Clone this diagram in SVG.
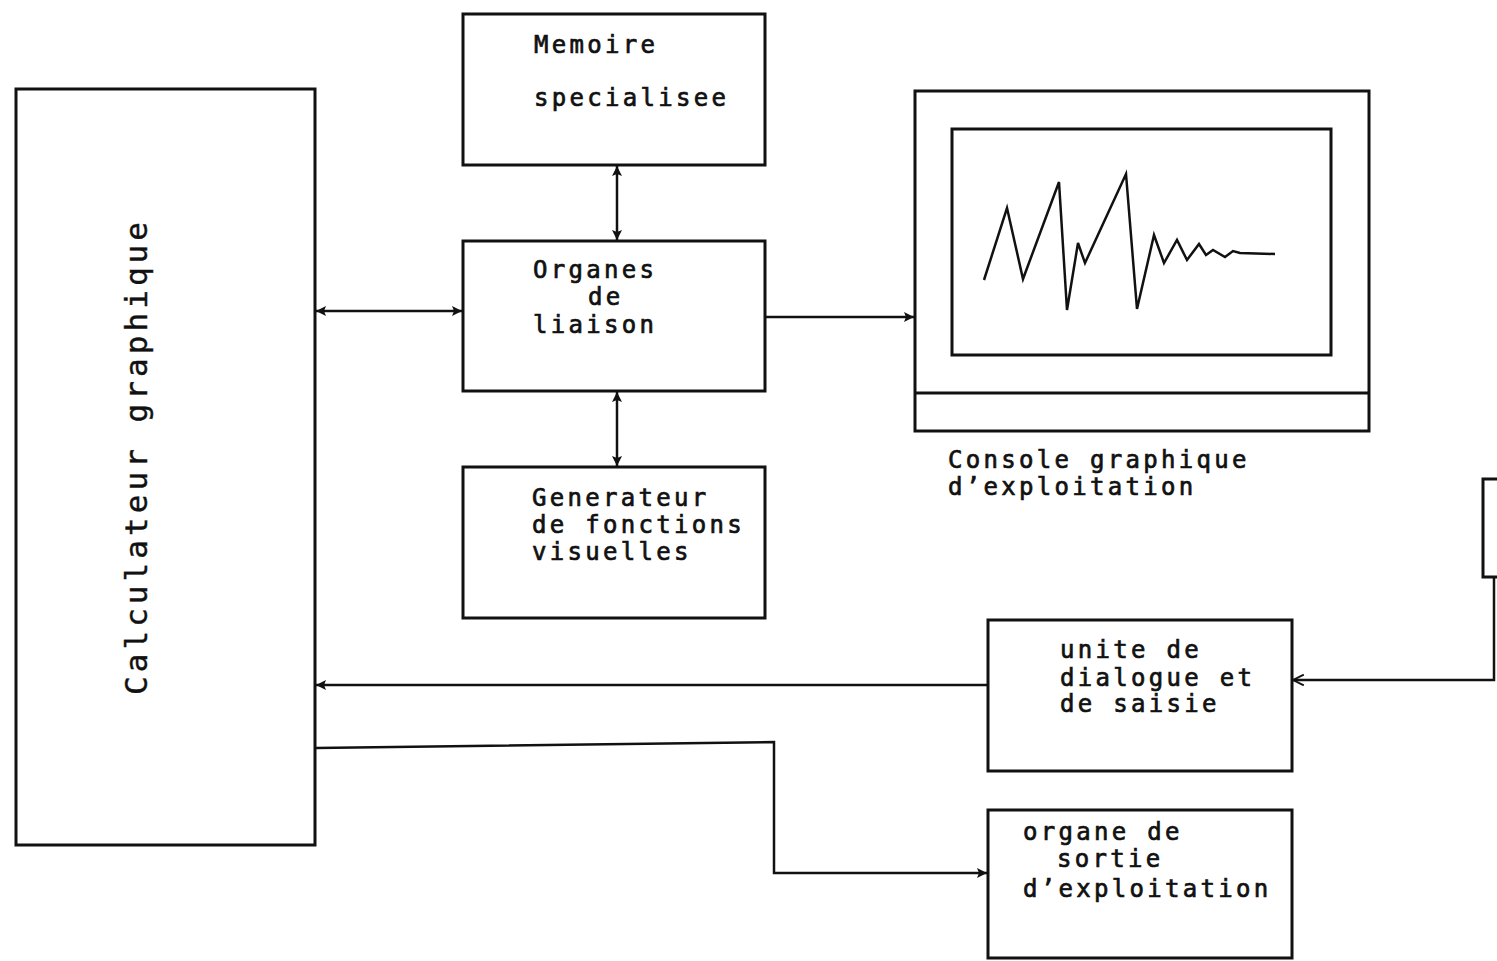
<svg xmlns="http://www.w3.org/2000/svg" width="1497" height="961" viewBox="0 0 1497 961">
<defs>
<marker id="ah" viewBox="0 0 10 10" refX="10" refY="5" markerWidth="12" markerHeight="10" markerUnits="userSpaceOnUse" orient="auto-start-reverse">
<path d="M0,0 L10,5 L0,10 L2,5 Z" fill="#111"/>
</marker>
<marker id="av" viewBox="0 0 10 10" refX="10" refY="5" markerWidth="12" markerHeight="12" markerUnits="userSpaceOnUse" orient="auto">
<path d="M1,0.5 L10,5 L1,9.5" fill="none" stroke="#111" stroke-width="1.6"/>
</marker>
<style>
.box{fill:none;stroke:#111;stroke-width:3}
.ln{fill:none;stroke:#111;stroke-width:2.5}
.t{font-family:"DejaVu Sans Mono","Liberation Mono",monospace;font-size:24px;letter-spacing:3.3px;fill:#111;stroke:#111;stroke-width:0.7px}
.v{font-family:"DejaVu Sans Mono","Liberation Mono",monospace;font-size:31px;fill:#111;stroke:#111;stroke-width:0.4px}
</style>
</defs>
<rect width="1497" height="961" fill="#fff"/>

<g id="calculateur">
<rect class="box" x="16" y="89" width="299" height="756"/>
<text class="v" transform="translate(147,695) rotate(-90)" textLength="473" lengthAdjust="spacing">Calculateur graphique</text>
</g>

<g id="memoire">
<rect class="box" x="463" y="14" width="302" height="151"/>
<text class="t" x="534" y="53">Memoire</text>
<text class="t" x="534" y="106">specialisee</text>
</g>

<g id="organes">
<rect class="box" x="463" y="241" width="302" height="150"/>
<text class="t" x="533" y="278">Organes</text>
<text class="t" x="588" y="305">de</text>
<text class="t" x="533" y="333">liaison</text>
</g>

<g id="generateur">
<rect class="box" x="463" y="467" width="302" height="151"/>
<text class="t" x="532" y="506">Generateur</text>
<text class="t" x="532" y="533">de fonctions</text>
<text class="t" x="532" y="560">visuelles</text>
</g>

<g id="console">
<rect class="box" x="915" y="91" width="454" height="340"/>
<rect class="box" x="952" y="129" width="379" height="226"/>
<line class="box" x1="915" y1="393" x2="1369" y2="393"/>
<polyline class="ln" points="984,280 1007,208 1023,279 1059,182 1067,310 1078,243 1085,263 1126,174 1137,309 1154,235 1164,263 1177,240 1187,260 1199,244 1206,255 1213,250 1225,257 1233,251 1240,253 1275,254"/>
<text class="t" x="948" y="468">Console graphique</text>
<text class="t" x="948" y="495">d’exploitation</text>
</g>

<g id="peripherique">
<polyline class="box" points="1500,479 1483,479 1483,577 1500,577"/>
</g>

<g id="unite">
<rect class="box" x="988" y="620" width="304" height="151"/>
<text class="t" x="1060" y="658">unite de</text>
<text class="t" x="1060" y="686">dialogue et</text>
<text class="t" x="1060" y="712">de saisie</text>
</g>

<g id="sortie">
<rect class="box" x="988" y="810" width="304" height="148"/>
<text class="t" x="1023" y="840">organe de</text>
<text class="t" x="1057" y="867">sortie</text>
<text class="t" x="1023" y="897">d’exploitation</text>
</g>

<g id="connectors">
<line class="ln" x1="617" y1="166" x2="617" y2="240" marker-start="url(#ah)" marker-end="url(#ah)"/>
<line class="ln" x1="617" y1="392" x2="617" y2="466" marker-start="url(#ah)" marker-end="url(#ah)"/>
<line class="ln" x1="316" y1="311" x2="462" y2="311" marker-start="url(#ah)" marker-end="url(#ah)"/>
<line class="ln" x1="766" y1="317" x2="914" y2="317" marker-end="url(#ah)"/>
<line class="ln" x1="987" y1="685" x2="316" y2="685" marker-end="url(#ah)"/>
<polyline class="ln" points="316,748 774,742 774,873 987,873" marker-end="url(#ah)"/>
<polyline class="ln" points="1494,577 1494,680 1293,680" marker-end="url(#av)"/>
</g>
</svg>
